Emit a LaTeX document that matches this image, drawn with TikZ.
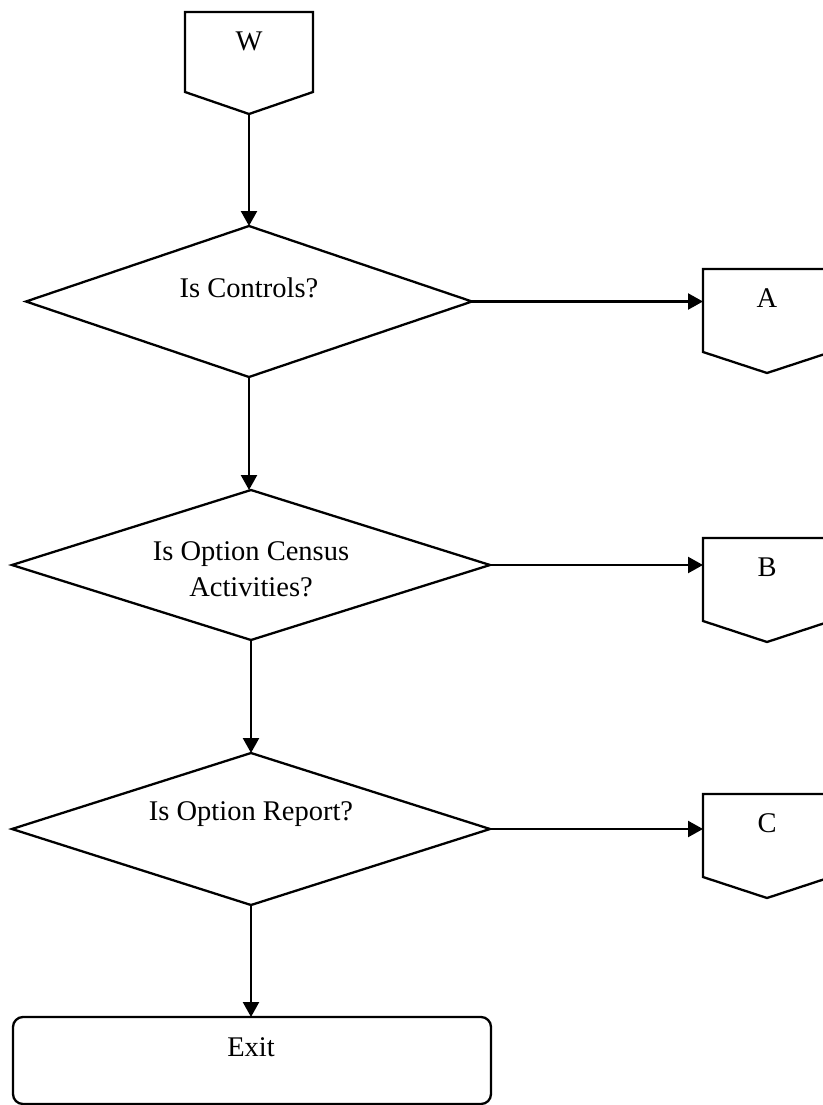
\documentclass[tikz,border=0pt]{standalone}
\usepackage{fontspec}
\setmainfont{Liberation Serif}
\usetikzlibrary{arrows.meta}
\tikzset{
  flow/.style={line width=2.3pt},
  conn/.style={flow,-{Triangle[length=15pt,width=16pt]}},
  lbl/.style={font=\fontsize{28.5}{36}\selectfont, inner sep=0pt, align=center},
}
% off-page connector: #1 name, #2 left x, #3 top y, #4 side height, #5 tip depth, #6 label
\newcommand\offpagecon[6]{%
  \coordinate (#1-left) at ({#2},{#3+40});
  \coordinate (#1-tip) at ({#2+64},{#3+#5});
  \draw[flow] ({#2},{#3+#4}) -- ({#2},{#3}) -- ({#2+128},{#3}) -- ({#2+128},{#3+#4}) -- (#1-tip) -- cycle;
  \node[lbl] (#1) at ({#2+64},{#3+29}) {#6};
}
% decision diamond: #1 name, #2 left x, #3 right x, #4 top y, #5 bottom y, #6 label, #7 label y
\newcommand\decision[7]{%
  \coordinate (#1-l) at ({#2},{(#4+#5)/2});
  \coordinate (#1-r) at ({#3},{(#4+#5)/2});
  \coordinate (#1-t) at ({(#2+#3)/2},{#4});
  \coordinate (#1-b) at ({(#2+#3)/2},{#5});
  \draw[flow] (#1-l) -- (#1-t) -- (#1-r) -- (#1-b) -- cycle;
  \node[lbl] (#1) at ({(#2+#3)/2},{#7}) {#6};
}
\begin{document}
\begin{tikzpicture}[x=1pt,y=-1pt]
\useasboundingbox (0,0) rectangle (822,1105);
\fill[white] (0,0) rectangle (822,1105);

\offpagecon{W}{185}{12}{80}{102}{W}
\decision{D1}{26}{472}{226}{377}{Is Controls?}{288}
\decision{D2}{12}{490}{490}{640}{Is Option Census\\Activities?}{569}
\decision{D3}{12}{490}{753}{905}{Is Option Report?}{814}

\offpagecon{A}{703}{269}{83}{104}{A}
\offpagecon{B}{703}{538}{83}{104}{B}
\offpagecon{C}{703}{794}{83}{104}{C}

\draw[flow,rounded corners=10pt] (13,1017) rectangle (491,1104);
\coordinate (Ex-t) at (251,1017);
\node[lbl] (Exit) at (251,1047) {Exit};

\draw[conn] (W-tip) -- (D1-t);
\draw[conn] (D1-b) -- (D1-b |- D2-t);
\draw[conn] (D2-b) -- (D3-t);
\draw[conn] (D3-b) -- (Ex-t);
\draw[conn] (D1-r) -- (A-left |- D1-r);
\draw[conn] (D2-r) -- (B-left |- D2-r);
\draw[conn] (D3-r) -- (C-left |- D3-r);
\end{tikzpicture}
\end{document}
